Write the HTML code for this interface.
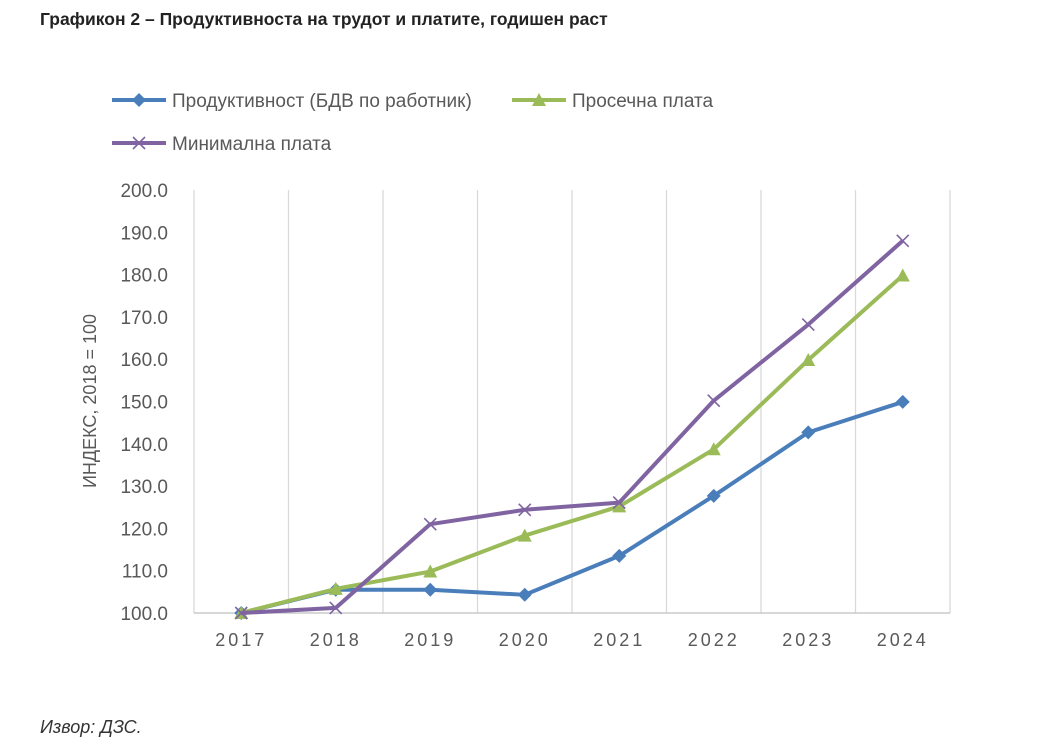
<!DOCTYPE html>
<html><head><meta charset="utf-8"><style>
body{margin:0;background:#fff;width:1037px;height:753px;overflow:hidden;font-family:"Liberation Sans","Noto Sans CJK SC",sans-serif}
#title{position:absolute;left:40px;top:9px;font-size:17.5px;font-weight:bold;color:#222}
#src{position:absolute;left:40px;top:717px;font-size:18px;font-style:italic;color:#333}
svg{position:absolute;left:0;top:0}
</style></head><body>
<div id="title">Графикон 2 – Продуктивноста на трудот и платите, годишен раст</div>
<div id="src">Извор: ДЗС.</div>
<svg id="chart" width="1037" height="753"></svg>
<script>
const years=["2017","2018","2019","2020","2021","2022","2023","2024"];
const productivity=[100,105.5,105.5,104.3,113.5,127.7,142.7,149.9];
const avgWage=[100,105.7,109.8,118.3,125.2,138.7,159.8,179.8];
const minWage=[100,101.2,121,124.4,126.1,150.2,168.2,188.0];
const yTicks=[100,110,120,130,140,150,160,170,180,190,200];
const NS="http://www.w3.org/2000/svg";
const svg=document.getElementById('chart');
const left=194,right=950,y0=613,y1=190;
const step=(right-left)/years.length;
const X=i=>left+step*(i+0.5);
const Y=v=>y0-(v-100)/(200-100)*(y0-y1);
function mk(t,a,p){const e=document.createElementNS(NS,t);for(const k in a)e.setAttribute(k,a[k]);(p||svg).appendChild(e);return e;}
for(let i=0;i<=years.length;i++){
 const g=mk('line',{x1:left+step*i,x2:left+step*i,y1:y1,y2:y0,stroke:'#d9d9d9','stroke-width':1.3});
 
 
}
const ax=mk('line',{x1:left,x2:right,y1:y0,y2:y0,stroke:'#bfbfbf','stroke-width':1.3});


yTicks.forEach(v=>{const t=mk('text',{x:168,y:Y(v)+7,'text-anchor':'end','font-size':19,fill:'#595959'});t.textContent=v.toFixed(1);
 
 });
years.forEach((y,i)=>{const t=mk('text',{x:X(i),y:646,'text-anchor':'middle','font-size':18,fill:'#595959','letter-spacing':'3px'});t.textContent=y;
 
 });
const yt=mk('text',{x:0,y:0,transform:'translate(96,401) rotate(-90)','text-anchor':'middle','font-size':18,fill:'#595959'});
yt.textContent='ИНДЕКС, 2018 = 100';


function marker(type,x,y,c){
 if(type==='d')return mk('path',{d:`M${x} ${y-7}L${x+7} ${y}L${x} ${y+7}L${x-7} ${y}Z`,fill:c});
 if(type==='t')return mk('path',{d:`M${x} ${y-7}L${x+7} ${y+6}L${x-7} ${y+6}Z`,fill:c});
 return mk('path',{d:`M${x-6} ${y-6}L${x+6} ${y+6}M${x+6} ${y-6}L${x-6} ${y+6}`,stroke:c,'stroke-width':1.6,fill:'none'});
}
const series=[[productivity,'#4a7ebb','d','productivity'],[avgWage,'#9bbb59','t','avg-wage'],[minWage,'#8064a2','x','min-wage']];
series.forEach(([d,c,m,n])=>{
 const p=mk('polyline',{points:d.map((v,i)=>X(i)+','+Y(v)).join(' '),fill:'none',stroke:c,'stroke-width':4,'stroke-linejoin':'round'});
 
 
 d.forEach((v,i)=>{const e=marker(m,X(i),Y(v),c);
  
  });
});
const leg=[[112,100,'#4a7ebb','d','Продуктивност (БДВ по работник)'],[512,100,'#9bbb59','t','Просечна плата'],[112,143,'#8064a2','x','Минимална плата']];
leg.forEach(([x,y,c,m,l])=>{
 const g=mk('g',{});
 
 
 mk('line',{x1:x,x2:x+54,y1:y,y2:y,stroke:c,'stroke-width':4},g);
 g.appendChild(marker(m,x+27,y,c));
 const t=mk('text',{x:x+60,y:y+7,'font-size':19,fill:'#595959'},g);t.textContent=l;
});
</script>
</body></html>
